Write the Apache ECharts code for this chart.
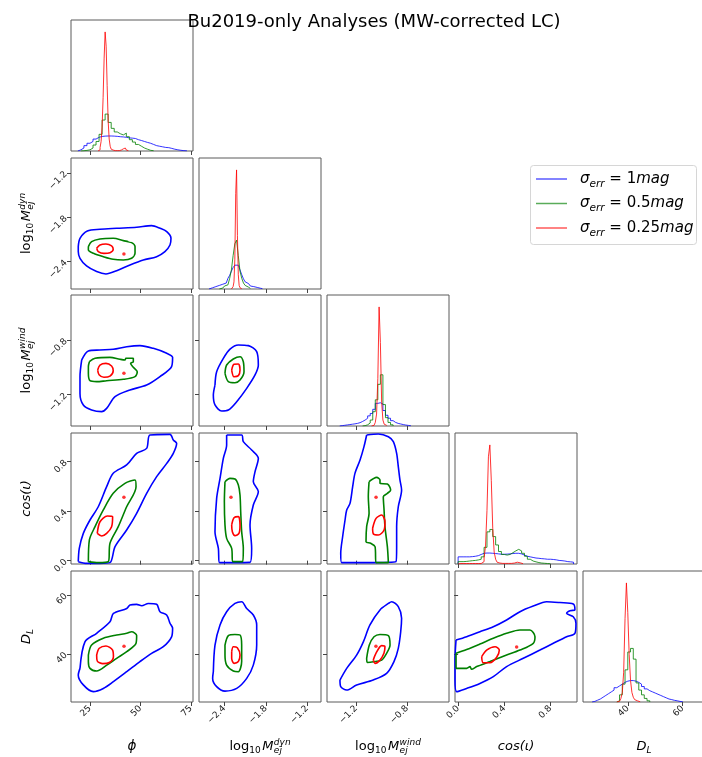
<!DOCTYPE html>
<html lang="en">
<head>
<meta charset="UTF-8">
<title>Bu2019-only Analyses (MW-corrected LC)</title>
<style>
  body { margin: 0; background: #fff; }
  #chart { width: 702px; height: 757px; }
</style>
</head>
<body>
<div id="chart"></div>
<script src="https://cdn.jsdelivr.net/npm/echarts@6.0.0/dist/echarts.min.js"></script>
<script>
// ---- parameters: axis limits and ticks (phi, log10 Mdyn, log10 Mwind, cos(iota), D_L)
const ranges = [[15.6, 76], [-2.77, -1.0], [-1.43, -0.47], [-0.027, 1.03], [23.7, 68.1]];
const ticks = [[25, 50, 75], [-2.4, -1.8, -1.2], [-1.2, -0.8], [0.0, 0.4, 0.8], [40, 60]];
const tickLabels = [['25', '50', '75'], ['\u22122.4', '\u22121.8', '\u22121.2'], ['\u22121.2', '\u22120.8'], ['0.0', '0.4', '0.8'], ['40', '60']];

const runColors = ['#0000ff', '#008000', '#ff0000'];   // sigma_err = 1, 0.5, 0.25 mag

// ---- 1D histograms (bin start, bin width, relative heights)
const binStart = [16, -2.75, -1.41, 0, 24];
const binWidth = [1.5, 0.025, 0.02, 0.025, 1.0];
// the narrow 0.25 mag posteriors use finer bins
const redBinStart = [29, -2.30, -1.08, 0, 36];
const redBinWidth = [0.5, 0.0125, 0.01, 0.0125, 0.5];

const histPhiBlue  = [0,0,1,2.5,4.5,6.5,8,10,11.5,12.2,12.5,12.6,12.6,12.5,12.3,12,11.8,11.5,11,10.8,10.5,9.5,8.8,8,7.2,6.5,5.5,4.5,4,3.5,3,2.8,2.2,1.5,1,0.6,0.3,0.1,0,0];
const histPhiGreen = [0,0,0,0.2,0.5,1,2.5,5,8,14,26,31,24,19,16,14.5,13.5,15,12,9.5,7.5,5.5,4,2.5,1.5,0.6,0.2,0,0,0,0,0,0,0,0,0,0,0,0,0];
const histPhiRed   = [0.5,1,3,8,20,45,78,100,88,55,25,10,4,1.5,0.8,0.5,0.3,0.3,0.3,0.3,0.3,0.5,0.8,1.2,1.8,2.5,2.5,1.5,0.8,0.3];

const histMdynBlue  = [0,0,0,0,0,0.5,1,1.5,2,2.5,3,3.5,4,4.5,5,6.5,9,11.5,15,18,20,20,18.5,16,12,8.5,6,4.5,3.5,2.5,2,1.6,1.3,1,0.6,0.3,0,0,0,0];
const histMdynGreen = [0,0,0,0,0,0,0,0,0,0,0,0.3,0.8,1.5,2.5,3.5,5,9,16,28,38,41,28,15,9,5,3,1.5,0.5,0,0,0,0,0,0,0,0,0,0,0];
const histMdynRed   = [0.3,0.8,2,6,25,80,100,45,12,3,1,0.3];

const histMwindBlue  = [0,0,0,0,0.3,0.6,0.9,1.2,1.5,1.8,2.2,2.8,3.8,5,6.5,8.5,10.5,14,19,19.5,18.5,13,9,6.5,4.5,3,2.2,1.7,1.2,0.8,0.5,0.2,0,0,0,0,0,0,0,0];
const histMwindGreen = [0,0,0,0,0,0,0,0,0,0,0,0,0,0.3,1,2.5,5,12,22,35,43,18,7,3,1,0,0,0,0,0,0,0,0,0,0,0,0,0,0,0];
const histMwindRed   = [0.3,0.5,1,3,10,40,100,70,20,5,1.5,0.5];

const histCosBlue  = [6,6,6,6,6.2,6.5,7,8,9,9.2,9.2,9,8.8,8.5,8.2,8.2,8.3,8.5,8.8,9,9,8.5,7.5,6.5,6,5.5,5,4.8,4.5,4.3,4,4,3.8,3.5,3,2.8,2.5,2,1.8,1.5];
const histCosGreen = [2,2,2.2,2.5,2.8,3,3.4,4,6,14,27,29,23,16,10.5,8,7.5,8,9.5,11,12.3,11,9,6.5,4,2.5,1.8,1.2,0.8,0.6,0.4,0.2,0,0,0,0,0,0,0,0];
const histCosRed   = [0.4,0.4,0.4,0.4,0.4,0.4,0.4,0.4,0.4,0.4,0.4,0.4,0.4,0.4,0.4,0.4,0.8,2,5,15,45,90,100,70,30,10,4,1.5,0.8,0.5,0.5,0.5,0.5,0.5,0.5,0.5,0.5,0.5,0.8,1.2,1.5,1.5,1,0.5,0.3];

const histDLBlue  = [0,0,0,0.5,1.5,2.5,4,5.5,7,8.5,10,12,13.5,15,16.5,17.5,18,18,17.5,16.5,15,13,11,9.5,8.5,7.5,6.5,5.5,4.5,3.5,2.5,2,1.4,1,0.5,0.2,0,0,0,0];
const histDLGreen = [0,0,0,0,0,0,0,0,0,0,0,0,1,6,15,27,42,45,36,16,10,6,3,1,0,0,0,0,0,0,0,0,0,0,0,0,0,0,0,0];
const histDLRed   = [0.3,0.6,1.2,3,8,25,70,100,75,40,18,8,4,2,1,0.5,0.2];

// ---- 2D contours (closed curves in parameter space)
const phiMdynBlue  = [[19.2,-2.197],[20.05,-2.085],[23.7,-1.986],[29.95,-1.963],[38.2,-1.95],[48.1,-1.936],[55.5,-1.914],[59.7,-1.95],[63.0,-1.995],[65.1,-2.085],[64.6,-2.175],[62.1,-2.265],[58.0,-2.333],[51.4,-2.378],[44.8,-2.445],[38.2,-2.522],[32.9,-2.567],[28.3,-2.535],[23.3,-2.459],[20.05,-2.355],[19.2,-2.265]];
const phiMdynGreen = [[24.2,-2.197],[25.8,-2.13],[29.95,-2.094],[36.5,-2.085],[41.5,-2.116],[45.6,-2.143],[47.3,-2.197],[47.3,-2.287],[45.6,-2.355],[41.5,-2.378],[36.5,-2.369],[31.6,-2.333],[26.7,-2.287],[24.2,-2.243]];
const phiMdynRed   = [[28.3,-2.22],[29.95,-2.175],[32.9,-2.162],[35.7,-2.188],[36.5,-2.233],[34.9,-2.279],[31.9,-2.288],[29.1,-2.265]];

const phiMwindBlue  = [[20.9,-0.946],[24.2,-0.88],[29.95,-0.873],[36.5,-0.868],[43.2,-0.849],[49.75,-0.841],[56.35,-0.861],[63.0,-0.897],[65.9,-0.927],[65.4,-0.995],[59.65,-1.068],[53.05,-1.13],[44.8,-1.166],[37.4,-1.215],[33.25,-1.301],[30.8,-1.325],[25.8,-1.313],[21.7,-1.276],[20.05,-1.191],[20.05,-1.068]];
const phiMwindGreen = [[24.7,-0.959],[27.5,-0.934],[34.9,-0.927],[39.85,-0.941],[42.3,-0.946],[42.8,-0.934],[46.45,-0.934],[46.45,-0.959],[45.1,-0.971],[46.45,-1.0],[48.4,-1.032],[47.3,-1.068],[41.5,-1.088],[33.25,-1.098],[28.3,-1.105],[25.0,-1.098],[24.2,-1.044],[24.2,-0.995]];
const phiMwindRed   = [[28.8,-1.02],[29.95,-0.983],[32.9,-0.971],[35.7,-0.99],[36.5,-1.025],[34.9,-1.064],[31.9,-1.073],[29.5,-1.054]];

const phiCosBlue  = [[19.2,-0.008],[19.7,0.099],[21.7,0.22],[25.0,0.328],[29.1,0.435],[33.25,0.597],[36.5,0.705],[43.15,0.772],[48.1,0.866],[53.05,0.906],[54.7,1.014],[64.6,1.019],[66.25,0.974],[67.9,0.947],[66.25,0.866],[63.0,0.785],[58.0,0.678],[53.05,0.543],[48.1,0.382],[43.15,0.247],[37.4,0.113],[34.9,-0.016],[29.95,-0.022],[23.35,-0.022]];
const phiCosGreen = [[24.2,-0.008],[24.7,0.167],[27.5,0.274],[31.6,0.409],[36.5,0.543],[42.3,0.624],[47.3,0.651],[47.8,0.597],[43.15,0.435],[39.0,0.274],[34.9,0.14],[34.1,-0.008],[29.1,-0.016]];
const phiCosRed   = [[28.6,0.22],[29.95,0.314],[33.6,0.36],[36.2,0.355],[35.7,0.274],[33.25,0.22],[30.8,0.199]];

const phiDLBlue  = [[20.05,35.1],[22.5,44.1],[28.3,47.0],[34.9,50.9],[36.6,53.7],[43.2,55.4],[44.8,56.6],[48.1,56.8],[50.6,56.3],[53.9,57.1],[58.0,56.8],[59.65,54.3],[62.95,53.2],[64.6,50.4],[65.9,48.7],[65.4,45.8],[61.3,42.45],[55.5,40.2],[49.75,37.4],[43.2,33.97],[36.6,30.6],[31.6,28.3],[26.65,27.2],[21.7,29.5],[19.2,32.8]];
const phiDLGreen = [[24.2,39.6],[25.8,43.0],[31.6,45.3],[38.2,46.4],[43.2,46.97],[45.6,47.5],[48.1,46.2],[47.8,43.6],[43.2,40.75],[38.2,38.5],[33.3,36.2],[28.3,34.2],[25.0,35.1],[24.2,37.36]];
const phiDLRed   = [[28.3,39.6],[29.6,41.9],[32.9,42.7],[36.2,41.3],[36.6,39.06],[34.6,37.1],[31.3,36.7],[28.6,37.6]];

const mdynMwindBlue  = [[-2.538,-1.13],[-2.514,-1.032],[-2.417,-0.934],[-2.32,-0.866],[-2.199,-0.836],[-2.054,-0.841],[-1.933,-0.885],[-1.909,-0.983],[-1.957,-1.056],[-2.078,-1.154],[-2.223,-1.252],[-2.344,-1.313],[-2.441,-1.32],[-2.538,-1.276],[-2.562,-1.203]];
const mdynMwindGreen = [[-2.393,-1.044],[-2.369,-0.983],[-2.272,-0.939],[-2.175,-0.922],[-2.127,-0.959],[-2.117,-1.032],[-2.175,-1.093],[-2.248,-1.113],[-2.344,-1.105]];
const mdynMwindRed   = [[-2.296,-1.02],[-2.262,-0.978],[-2.199,-0.976],[-2.175,-1.02],[-2.199,-1.061],[-2.262,-1.069]];

const mdynCosBlue  = [[-2.369,1.014],[-2.151,1.014],[-2.127,0.96],[-2.006,0.893],[-1.909,0.826],[-1.957,0.718],[-1.982,0.637],[-1.909,0.557],[-1.982,0.449],[-2.03,0.288],[-2.006,0.099],[-2.03,-0.014],[-2.32,-0.016],[-2.475,-0.014],[-2.489,0.099],[-2.538,0.234],[-2.514,0.503],[-2.465,0.664],[-2.417,0.826],[-2.369,0.933]];
const mdynCosGreen = [[-2.393,0.637],[-2.32,0.664],[-2.248,0.659],[-2.199,0.61],[-2.175,0.53],[-2.165,0.395],[-2.151,0.234],[-2.127,0.099],[-2.136,-0.008],[-2.281,-0.008],[-2.296,0.099],[-2.369,0.18],[-2.393,0.288],[-2.402,0.476]];
const mdynCosRed   = [[-2.296,0.288],[-2.262,0.347],[-2.199,0.355],[-2.175,0.288],[-2.19,0.22],[-2.248,0.202],[-2.286,0.234]];

const mdynDLBlue  = [[-2.562,33.97],[-2.538,43.0],[-2.465,49.8],[-2.369,54.3],[-2.248,57.1],[-2.151,57.7],[-2.078,55.4],[-1.982,53.2],[-1.933,49.8],[-1.933,43.0],[-1.982,36.2],[-2.078,31.7],[-2.223,28.3],[-2.393,27.4],[-2.514,28.9],[-2.572,31.7]];
const mdynDLGreen = [[-2.393,43.0],[-2.344,46.2],[-2.248,46.6],[-2.175,46.4],[-2.151,43.0],[-2.151,37.4],[-2.199,33.97],[-2.272,34.2],[-2.369,36.2],[-2.393,39.6]];
const mdynDLRed   = [[-2.296,40.75],[-2.272,42.45],[-2.214,42.1],[-2.175,39.6],[-2.199,37.4],[-2.262,36.8],[-2.296,38.5]];

const mwindCosBlue  = [[-1.118,1.014],[-1.026,1.022],[-0.947,1.0],[-0.908,0.96],[-0.882,0.866],[-0.869,0.758],[-0.856,0.651],[-0.843,0.57],[-0.869,0.435],[-0.882,0.274],[-0.882,0.113],[-0.887,-0.008],[-1.118,-0.016],[-1.315,-0.016],[-1.322,0.059],[-1.307,0.193],[-1.288,0.328],[-1.275,0.409],[-1.249,0.462],[-1.228,0.597],[-1.21,0.704],[-1.17,0.812],[-1.139,0.92]];
const mwindCosGreen = [[-1.099,0.637],[-1.039,0.672],[-1.013,0.651],[-1.013,0.624],[-0.955,0.618],[-0.929,0.57],[-0.955,0.543],[-0.987,0.516],[-0.981,0.409],[-0.974,0.274],[-0.955,0.113],[-0.947,-0.016],[-1.044,-0.016],[-1.052,0.113],[-1.086,0.14],[-1.123,0.153],[-1.118,0.274],[-1.099,0.382],[-1.105,0.516]];
const mwindCosRed   = [[-1.071,0.261],[-1.044,0.341],[-0.999,0.368],[-0.974,0.314],[-0.981,0.247],[-1.026,0.207],[-1.065,0.215]];

const mwindDLBlue  = [[-1.328,31.15],[-1.275,35.1],[-1.197,39.6],[-1.144,44.1],[-1.092,49.8],[-1.013,54.9],[-0.947,57.1],[-0.921,57.7],[-0.869,56.0],[-0.843,52.05],[-0.85,47.5],[-0.869,41.9],[-0.903,37.4],[-0.961,33.4],[-1.066,31.15],[-1.197,29.45],[-1.275,27.76],[-1.322,28.9]];
const mwindDLGreen = [[-1.118,38.5],[-1.097,43.0],[-1.06,45.8],[-1.013,46.6],[-0.947,46.2],[-0.934,43.0],[-0.961,40.2],[-1.0,37.9],[-1.053,37.4],[-1.113,37.1]];
const mwindDLRed   = [[-1.066,37.9],[-1.045,40.2],[-1.0,42.8],[-0.974,42.45],[-0.982,40.2],[-1.013,37.9],[-1.052,36.8]];

const cosDLBlue  = [[-0.018,44.7],[0.074,45.84],[0.189,47.5],[0.305,49.2],[0.42,51.5],[0.536,54.3],[0.651,56.2],[0.767,57.7],[0.882,57.4],[0.998,56.9],[1.012,54.9],[0.969,54.65],[0.94,53.75],[0.998,52.6],[1.021,50.4],[1.012,46.97],[0.94,45.84],[0.825,43.6],[0.709,41.3],[0.565,38.5],[0.42,35.7],[0.305,32.3],[0.189,30.0],[0.074,28.3],[-0.013,27.2],[-0.027,31.15],[-0.027,37.9]];
const cosDLGreen = [[-0.018,40.2],[0.074,41.5],[0.189,43.35],[0.305,45.3],[0.42,46.97],[0.536,48.1],[0.622,48.1],[0.666,45.84],[0.651,43.6],[0.536,41.3],[0.42,39.6],[0.276,37.4],[0.161,35.7],[0.117,34.8],[0.103,35.7],[0.074,35.1],[-0.018,35.1]];
const cosDLRed   = [[0.204,39.06],[0.247,41.3],[0.32,42.45],[0.357,41.3],[0.334,38.85],[0.276,37.0],[0.218,37.0]];

// tiny isolated contour islands
const greenIslands = [[1, 0, [45.1, -2.094]], [3, 1, [-2.093, 0.575]]];
const redIslands = [[1, 0, [41.8, -2.296]], [2, 0, [41.8, -1.044]], [3, 0, [41.8, 0.511]], [4, 0, [41.85, 42.6]],
                    [3, 1, [-2.306, 0.511]], [3, 2, [-1.044, 0.511]], [4, 2, [-1.045, 42.6]], [4, 3, [0.507, 42.3]]];

const hists = [
  [histPhiBlue, histPhiGreen, histPhiRed],
  [histMdynBlue, histMdynGreen, histMdynRed],
  [histMwindBlue, histMwindGreen, histMwindRed],
  [histCosBlue, histCosGreen, histCosRed],
  [histDLBlue, histDLGreen, histDLRed]
];
const contours = {
  '1,0': [phiMdynBlue, phiMdynGreen, phiMdynRed],
  '2,0': [phiMwindBlue, phiMwindGreen, phiMwindRed],
  '3,0': [phiCosBlue, phiCosGreen, phiCosRed],
  '4,0': [phiDLBlue, phiDLGreen, phiDLRed],
  '2,1': [mdynMwindBlue, mdynMwindGreen, mdynMwindRed],
  '3,1': [mdynCosBlue, mdynCosGreen, mdynCosRed],
  '4,1': [mdynDLBlue, mdynDLGreen, mdynDLRed],
  '3,2': [mwindCosBlue, mwindCosGreen, mwindCosRed],
  '4,2': [mwindDLBlue, mwindDLGreen, mwindDLRed],
  '4,3': [cosDLBlue, cosDLGreen, cosDLRed]
};

// ---- layout
const colX = [71, 199, 327, 455, 583];
const rowY = [20, 158, 295, 433, 571];
const panelW = 122, panelH = 131;
const histMax = 110;
const FONT = '"DejaVu Sans", sans-serif';

function tickText(v, k) {
  const idx = ticks[k].findIndex(t => Math.abs(t - v) < 1e-9);
  return idx >= 0 ? tickLabels[k][idx] : '';
}

function stepData(start, width, h) {
  let a = 0, b = h.length - 1;
  while (a < b && h[a] === 0) a++;
  while (b > a && h[b] === 0) b--;
  const pts = [[start + a * width, 0]];
  for (let k = a; k <= b; k++) pts.push([start + k * width, h[k]]);
  pts.push([start + (b + 1) * width, 0]);
  return pts;
}

const grids = [], xAxes = [], yAxes = [], series = [];
const gridOf = {};

for (let i = 0; i < 5; i++) {
  for (let j = 0; j <= i; j++) {
    const g = grids.length;
    gridOf[i + ',' + j] = g;
    grids.push({ left: colX[j], top: rowY[i], width: panelW, height: panelH, show: true,
      borderColor: '#5a5a5a', borderWidth: 1, backgroundColor: '#fff', containLabel: false, outerBoundsMode: 'none' });
    xAxes.push({ gridIndex: g, type: 'value', min: ranges[j][0], max: ranges[j][1],
      axisLine: { show: false }, splitLine: { show: false },
      axisTick: { show: true, customValues: ticks[j], length: 4, inside: false, lineStyle: { color: '#444', width: 1 } },
      axisLabel: { show: i === 4, customValues: ticks[j], rotate: 45, fontSize: 9, color: '#222', margin: 5,
        fontFamily: FONT, formatter: v => tickText(v, j) } });
    if (i === j) {
      yAxes.push({ gridIndex: g, type: 'value', min: 0, max: histMax, show: false });
    } else {
      yAxes.push({ gridIndex: g, type: 'value', min: ranges[i][0], max: ranges[i][1],
        axisLine: { show: false }, splitLine: { show: false },
        axisTick: { show: true, customValues: ticks[i], length: 4, inside: false, lineStyle: { color: '#444', width: 1 } },
        axisLabel: { show: j === 0, customValues: ticks[i], rotate: 45, fontSize: 9, color: '#222', margin: 5,
          fontFamily: FONT, formatter: v => tickText(v, i) } });
    }
  }
}

// diagonal histograms
for (let v = 0; v < 5; v++) {
  const g = gridOf[v + ',' + v];
  hists[v].forEach((h, r) => {
    const data = r === 2 ? stepData(redBinStart[v], redBinWidth[v], h) : stepData(binStart[v], binWidth[v], h);
    series.push({ type: 'line', xAxisIndex: g, yAxisIndex: g, data: data, step: 'end',
      showSymbol: false, silent: true, clip: true, z: 2 + r,
      lineStyle: { color: runColors[r], width: 1, opacity: 0.8 } });
  });
}

// off-diagonal contours
Object.keys(contours).forEach(key => {
  const g = gridOf[key];
  contours[key].forEach((pts, r) => {
    series.push({ type: 'line', xAxisIndex: g, yAxisIndex: g, data: pts.concat([pts[0]]), smooth: 0.3,
      showSymbol: false, silent: true, clip: true, z: 2 + r,
      lineStyle: { color: runColors[r], width: 1.6 } });
  });
});
greenIslands.forEach(([i, j, p]) => {
  const g = gridOf[i + ',' + j];
  series.push({ type: 'scatter', xAxisIndex: g, yAxisIndex: g, data: [p], symbol: 'emptyCircle', symbolSize: 4,
    silent: true, z: 4, itemStyle: { color: '#fff', borderColor: runColors[1], borderWidth: 1.5 } });
});
redIslands.forEach(([i, j, p]) => {
  const g = gridOf[i + ',' + j];
  series.push({ type: 'scatter', xAxisIndex: g, yAxisIndex: g, data: [p], symbol: 'circle', symbolSize: 3.5,
    silent: true, z: 5, itemStyle: { color: runColors[2] } });
});

// ---- math-style labels built from text pieces
const mctx = document.createElement('canvas').getContext('2d');
function fontStr(size, italic) { return (italic ? 'italic ' : 'normal ') + size + 'px ' + FONT; }
function tw(t, size, italic) { mctx.font = fontStr(size, italic); return mctx.measureText(t).width; }
function piece(t, size, italic, x, dy) {
  return { type: 'text', silent: true, style: { text: t, x: x, y: dy - 0.36 * size, font: fontStr(size, italic),
    fill: '#000', align: 'left', verticalAlign: 'middle' } };
}
function mathLabel(parts, x, y, rotation, centered) {
  let cx = 0;
  const kids = [];
  parts.forEach(p => {
    if (p.stack) {
      let mw = 0;
      p.stack.forEach(s => { kids.push(piece(s.t, s.size, s.italic, cx, s.dy || 0)); mw = Math.max(mw, tw(s.t, s.size, s.italic)); });
      cx += mw;
    } else {
      kids.push(piece(p.t, p.size, p.italic, cx, p.dy || 0));
      cx += tw(p.t, p.size, p.italic) + (p.gap || 0);
    }
  });
  if (centered) kids.forEach(k => { k.style.x -= cx / 2; });
  return { type: 'group', x: x, y: y, rotation: rotation || 0, children: kids };
}

const LS = 13, SS = 9;
function logM(sup) {
  return [{ t: 'log', size: LS }, { t: '10', size: SS, dy: 3, gap: 1.5 }, { t: 'M', size: LS, italic: true, gap: 0.5 },
          { stack: [{ t: sup, size: SS, italic: true, dy: -5.5 }, { t: 'ej', size: SS, italic: true, dy: 3 }] }];
}
const axisNames = [
  [{ t: '\u03d5', size: LS + 0.5, italic: true }],
  logM('dyn'),
  logM('wind'),
  [{ t: 'cos(\u03b9)', size: LS, italic: true }],
  [{ t: 'D', size: LS, italic: true }, { t: 'L', size: SS, italic: true, dy: 3 }]
];

const graphics = [];
for (let k = 0; k < 5; k++) {
  graphics.push(mathLabel(axisNames[k], colX[k] + panelW / 2, 751, 0, true));
  if (k > 0) graphics.push(mathLabel(axisNames[k], 31, rowY[k] + panelH / 2, Math.PI / 2, true));
}

// legend
const legendNames = ['1', '0.5', '0.25'];
graphics.push({ type: 'rect', silent: true, shape: { x: 530.5, y: 165.5, width: 166, height: 79, r: 3 },
  style: { fill: 'rgba(255,255,255,0.85)', stroke: '#d6d6d6', lineWidth: 1 } });
legendNames.forEach((n, r) => {
  const ly = 179 + r * 24.5;
  graphics.push({ type: 'line', silent: true, shape: { x1: 536, y1: ly, x2: 567, y2: ly },
    style: { stroke: runColors[r], lineWidth: 1.5, opacity: 0.65 } });
  graphics.push(mathLabel([{ t: '\u03c3', size: 15, italic: true }, { t: 'err', size: 10.5, italic: true, dy: 3.5 },
    { t: ' = ' + n, size: 15 }, { t: 'mag', size: 15, italic: true }], 580, ly + 5.4, 0, false));
});

const chart = echarts.init(document.getElementById('chart'), null, { renderer: 'canvas' });
chart.setOption({
  animation: false,
  backgroundColor: '#fff',
  textStyle: { fontFamily: FONT },
  title: { text: 'Bu2019-only Analyses (MW-corrected LC)', left: 369, top: 8, textAlign: 'center',
    textStyle: { fontSize: 18, fontWeight: 'normal', color: '#000', fontFamily: FONT } },
  grid: grids,
  xAxis: xAxes,
  yAxis: yAxes,
  series: series,
  graphic: graphics
});
</script>
</body>
</html>
